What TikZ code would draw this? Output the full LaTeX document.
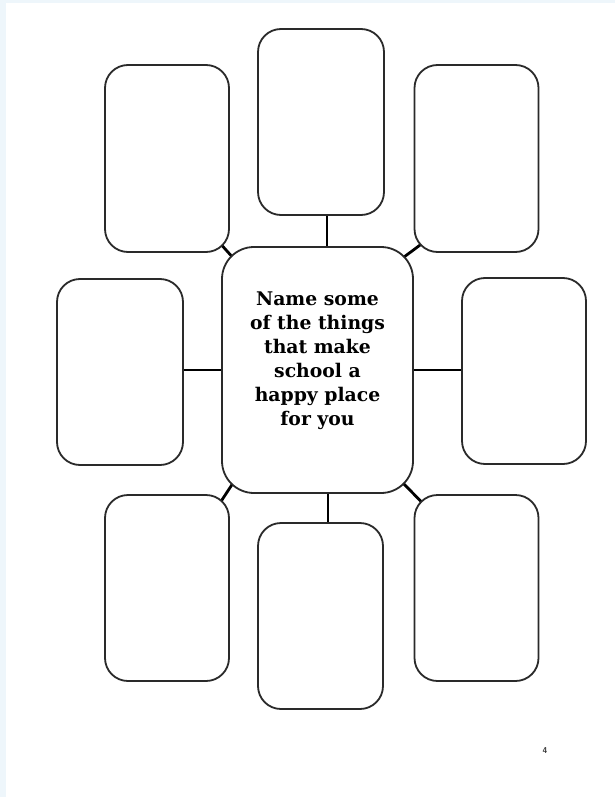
\documentclass[tikz,border=0pt]{standalone}
\usepackage{fontspec}
\usepackage{tikz}
\usetikzlibrary{calc,backgrounds}
\newfontfamily\promptfont{DejaVu Serif}
\definecolor{pagebg}{HTML}{EEF6FB}
\definecolor{boxline}{HTML}{2A2A2A}

\begin{document}
\begin{tikzpicture}[x=1pt, y=-1pt,
    card/.style={draw=boxline, line width=1.8pt, fill=white, rounded corners=23pt,
      minimum width=124pt, minimum height=187pt, inner sep=0pt},
    hubbox/.style={draw=boxline, line width=1.8pt, fill=white, rounded corners=32pt,
      minimum width=191pt, minimum height=246pt, inner sep=0pt},
    link/.style={draw=black, line width=2.8pt}]
  % page
  \begin{scope}[on background layer]
    \fill[pagebg] (0,0) rectangle (615,797);
    \fill[white] (6,3) rectangle (615,797);
  \end{scope}
  \useasboundingbox (0,0) rectangle (615,797);

  % centre box and the eight answer boxes
  \node[hubbox] (hub) at (317.5,370) {};
  \node[card] (tl) at (167,158.5) {};
  \node[card, minimum width=126pt, minimum height=186pt] (tc) at (321,122) {};
  \node[card] (tr) at (476.5,158.5) {};
  \node[card, minimum width=126pt, minimum height=186pt] (ml) at (120,372) {};
  \node[card, minimum height=186pt] (mr) at (524,371) {};
  \node[card, minimum height=186pt] (bl) at (167,588) {};
  \node[card, minimum width=125pt, minimum height=186pt] (bc) at (320.5,616) {};
  \node[card, minimum height=186pt] (br) at (476.5,588) {};

  \node[align=center, font=\promptfont\bfseries\fontsize{18.8}{24}\selectfont] (prompt) at (317.5,361)
    {Name some\\of the things\\that make\\school a\\happy place\\for you};

  % connectors (under the boxes, so only the gaps show)
  \begin{scope}[on background layer]
    \draw[link] ($(tc.south)+(6,0)$) coordinate (t1) -- (t1 |- hub.north);
    \draw[link] ($(bc.north)+(7.5,0)$) coordinate (b1) -- (b1 |- hub.south);
    \draw[link] (hub.west) -- (hub.west -| ml.east);
    \draw[link] (hub.east) -- (hub.east -| mr.west);
    \draw[link] ($(tl.south east)+(-12,-12)$) -- ($(hub.north west)+(14,14)$);
    \draw[link] ($(tr.south west)+(12,-12)$) -- ($(hub.north east)+(-14,14)$);
    \draw[link] ($(bl.north east)+(-12,12)$) -- ($(hub.south west)+(14,-14)$);
    \draw[link] ($(br.north west)+(12,12)$) -- ($(hub.south east)+(-14,-14)$);
  \end{scope}

  \node[font=\sffamily\bfseries\fontsize{8.5}{8.5}\selectfont, text=black!80] (pageno) at (545,751) {4};
\end{tikzpicture}
\end{document}
